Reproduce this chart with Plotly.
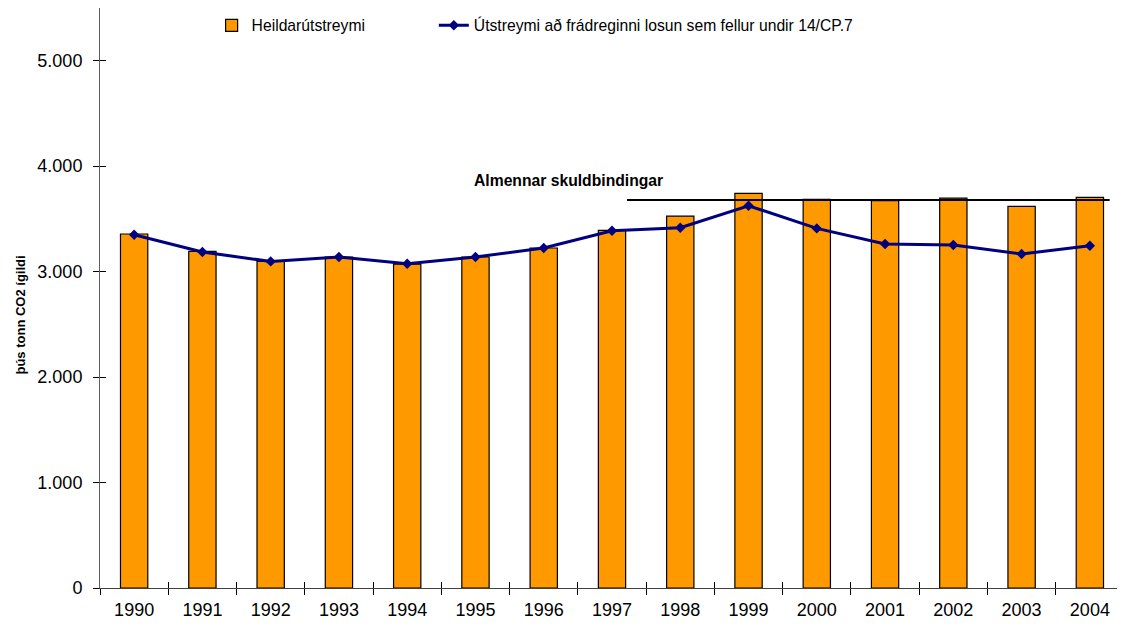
import plotly.graph_objects as go

years = ["1990", "1991", "1992", "1993", "1994", "1995", "1996", "1997",
         "1998", "1999", "2000", "2001", "2002", "2003", "2004"]
total_emissions = [3357, 3192, 3097, 3139, 3072, 3139, 3224, 3391,
                   3527, 3742, 3685, 3673, 3698, 3619, 3704]
emissions_excl_14cp7 = [3350, 3186, 3097, 3139, 3075, 3139, 3224, 3388,
                        3416, 3625, 3410, 3262, 3252, 3167, 3246]
commitment_value = 3680
commitment_span = [7.22, 14.29]  # category-index positions on the x axis

series_names = ["Heildarútstreymi",
                "Útstreymi að frádreginni losun sem fellur undir 14/CP.7"]
y_title = "þús tonn CO2 ígildi"
commitment_label = "Almennar skuldbindingar"
y_ticks = [0, 1000, 2000, 3000, 4000, 5000]

FONT = "Liberation Sans, Arial, sans-serif"

fig = go.Figure()
fig.add_trace(go.Bar(
    x=years, y=total_emissions, name=series_names[0],
    marker=dict(color="#FF9900", line=dict(color="#000000", width=1.2)),
    xaxis="x", yaxis="y", legend="legend",
))
fig.add_trace(go.Scatter(
    x=years, y=emissions_excl_14cp7, name=series_names[1],
    mode="lines+markers",
    line=dict(color="#000080", width=3),
    marker=dict(symbol="diamond", size=8, color="#000080"),
    xaxis="x2", yaxis="y2", legend="legend2",
))

fig.add_shape(type="line", xref="x", yref="y",
              x0=commitment_span[0], x1=commitment_span[1],
              y0=commitment_value, y1=commitment_value,
              line=dict(color="#000000", width=2))

fig.add_annotation(text="<b>" + commitment_label + "</b>",
                   xref="paper", yref="paper",
                   x=0.458, y=0.702, showarrow=False,
                   font=dict(family=FONT, size=15.7, color="#000000"),
                   xanchor="center", yanchor="middle")
fig.add_annotation(text="<b>" + y_title + "</b>", xref="paper", yref="paper",
                   x=-0.078, y=0.47, showarrow=False, textangle=-90,
                   font=dict(family=FONT, size=13, color="#000000"),
                   xanchor="center", yanchor="middle")

legend_common = dict(orientation="h", xref="paper", yref="paper",
                     xanchor="left", yanchor="top", y=0.999,
                     font=dict(family=FONT, size=15.7, color="#000000"),
                     bgcolor="rgba(0,0,0,0)")

# the page body adds an 8px margin, so the figure is sized to compensate
fig.update_layout(
    width=1117, height=621,
    margin=dict(l=92, r=1, t=0, b=41, autoexpand=False),
    paper_bgcolor="white", plot_bgcolor="white",
    font=dict(family=FONT, size=18, color="#000000"),
    separators=",.",
    bargap=0.6,
    showlegend=True,
    legend=dict(x=0.109, **legend_common),
    legend2=dict(x=0.326, **legend_common),
    xaxis=dict(type="category", tickson="boundaries", ticks="outside",
               ticklen=6, tickcolor="#000000", showline=True,
               linecolor="#404040", linewidth=1, showgrid=False,
               range=[-0.5, 14.5], zeroline=False, automargin=False,
               ticklabelstandoff=5, tickfont=dict(size=18)),
    yaxis=dict(range=[0, 5500], tickvals=y_ticks, tickformat=",d",
               ticks="outside", ticklen=6, tickcolor="#000000",
               showline=True, linecolor="#606060", linewidth=1,
               showgrid=False, zeroline=False, automargin=False,
               ticklabelstandoff=7, tickfont=dict(size=18)),
    xaxis2=dict(type="category", overlaying="x", side="bottom",
                tickson="boundaries", ticks="inside", ticklen=6,
                tickcolor="#000000", showticklabels=False, showline=False,
                showgrid=False, range=[-0.5, 14.5], zeroline=False,
                automargin=False),
    yaxis2=dict(overlaying="y", side="left", range=[0, 5500],
                tickvals=y_ticks, ticks="inside", ticklen=6,
                tickcolor="#000000", showticklabels=False, showline=False,
                showgrid=False, zeroline=False, automargin=False),
)

fig.write_html("out.html")
